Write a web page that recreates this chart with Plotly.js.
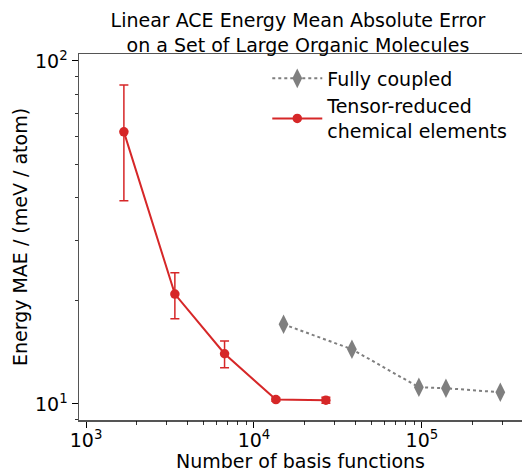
<!DOCTYPE html>
<html>
<head>
<meta charset="utf-8">
<script src="https://cdn.plot.ly/plotly-3.0.1.min.js"></script>
<style>html,body{margin:0;padding:0;background:#fff;}#chart{width:523px;height:472px;}</style>
</head>
<body>
<div id="chart"></div>
<script>
// Fully coupled
const fullX = [15000, 38300, 95900, 139000, 293000];
const fullY = [17.06, 14.43, 11.18, 11.11, 10.81];
// Tensor-reduced chemical elements
const redX = [1680, 3380, 6680, 13500, 26800];
const redY = [62.1, 20.9, 14.0, 10.29, 10.25];
const redErr = [23.0, 3.2, 1.25, 0.12, 0.2];

const seriesNames = ["Fully coupled", "Tensor-reduced<br>chemical elements"];
const xTickVals = [1000, 10000, 100000];
const xTickText = ["10<sup>3</sup>", "10<sup>4</sup>", "10<sup>5</sup>"];
const yTickVals = [10, 100];
const yTickText = ["10<sup>1</sup>", "10<sup>2</sup>"];

const xRange = [2.958, 5.596];
const yRange = [0.953, 2.02];

function minorTicks(lo, hi) {
  const out = [];
  for (let d = Math.floor(lo); d <= Math.ceil(hi); d++) {
    for (let m = 2; m <= 9; m++) {
      const v = m * Math.pow(10, d);
      const lv = Math.log10(v);
      if (lv > lo && lv < hi) out.push(v);
    }
  }
  return out;
}

const font = "DejaVu Sans, sans-serif";
const fs = 19;

const traces = [
  {
    x: fullX, y: fullY, name: seriesNames[0], type: "scatter", mode: "lines+markers",
    line: {color: "#7f7f7f", width: 2, dash: "dot"},
    marker: {symbol: "diamond-tall", size: 14, color: "#7f7f7f"}
  },
  {
    x: redX, y: redY, name: seriesNames[1], type: "scatter", mode: "lines+markers",
    line: {color: "#d62728", width: 2},
    marker: {symbol: "circle", size: 9.5, color: "#d62728"},
    error_y: {type: "data", array: redErr, visible: true, color: "#d62728", thickness: 1.5, width: 4.5}
  }
];

const tickBase = {
  ticks: "outside", tickwidth: 1, tickcolor: "#000",
  showgrid: false, zeroline: false
};

const layout = {
  width: 523, height: 472,
  margin: {l: 79, r: 1, t: 54, b: 52},
  paper_bgcolor: "#fff", plot_bgcolor: "#fff",
  font: {family: font, size: fs, color: "#000"},
  title: {
    text: "Linear ACE Energy Mean Absolute Error<br>on a Set of Large Organic Molecules",
    font: {family: font, size: fs, color: "#000"},
    x: 298 / 523, xanchor: "center", xref: "container",
    yref: "container", y: 1 - 27 / 472, yanchor: "top"
  },
  showlegend: true,
  legend: {
    x: 0.425, y: 0.985, xanchor: "left", yanchor: "top",
    bgcolor: "rgba(255,255,255,0)", font: {family: font, size: fs},
    itemwidth: 50, tracegroupgap: 0
  },
  xaxis: Object.assign({}, tickBase, {
    type: "log", range: xRange,
    tickvals: xTickVals, ticktext: xTickText, ticklen: 6,
    ticklabelstandoff: -3,
    showline: true, linecolor: "#555", linewidth: 1.5, mirror: true,
    tickfont: {family: font, size: fs},
    title: {text: "Number of basis functions", font: {family: font, size: fs}, standoff: 2}
  }),
  xaxis2: Object.assign({}, tickBase, {
    type: "log", range: xRange, overlaying: "x", anchor: "y", side: "bottom",
    tickvals: minorTicks(xRange[0], xRange[1]), ticklen: 3.5, tickwidth: 0.8,
    showticklabels: false, showline: false
  }),
  yaxis: Object.assign({}, tickBase, {
    type: "log", range: yRange,
    tickvals: yTickVals, ticktext: yTickText, ticklen: 6,
    showline: true, linecolor: "#555", linewidth: 1.5, mirror: false,
    tickfont: {family: font, size: fs},
    title: {text: "Energy MAE / (meV / atom)", font: {family: font, size: fs}, standoff: 2}
  }),
  yaxis2: Object.assign({}, tickBase, {
    type: "log", range: yRange, overlaying: "y", anchor: "x", side: "left",
    tickvals: minorTicks(yRange[0], yRange[1]), ticklen: 3.5, tickwidth: 0.8,
    showticklabels: false, showline: false
  })
};

// invisible anchor trace so the overlay axes are drawn
traces.push({x: [], y: [], xaxis: "x2", yaxis: "y2", showlegend: false, hoverinfo: "skip", type: "scatter"});

Plotly.newPlot("chart", traces, layout, {displayModeBar: false, staticPlot: true});
</script>
</body>
</html>
